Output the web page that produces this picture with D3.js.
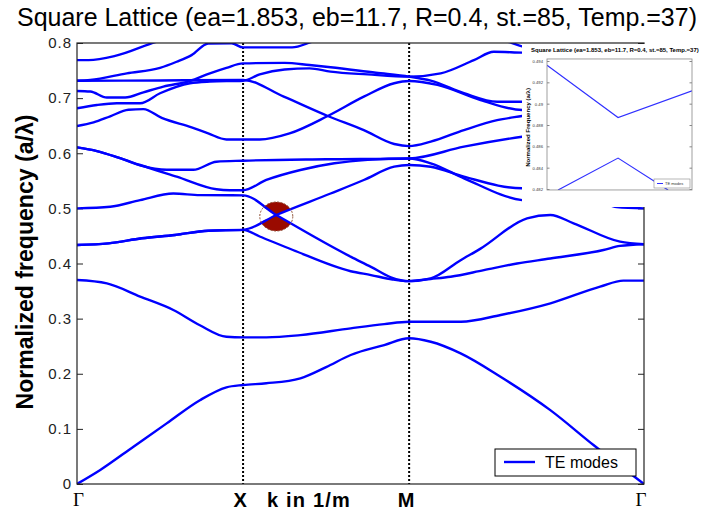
<!DOCTYPE html>
<html><head><meta charset="utf-8">
<script src="https://cdn.jsdelivr.net/npm/d3@7"></script>
<style>body{margin:0;background:#fff}svg{display:block}</style>
</head><body>
<svg id="chart" width="702" height="511"></svg>
<script>
// ---------- data ----------
const titleText = "Square Lattice (ea=1.853, eb=11.7, R=0.4, st.=85, Temp.=37)";
const yLabelText = "Normalized frequency (a/λ)";
const xLabelText = "k in 1/m";
const legendLabel = "TE modes";
const kPoints = [0, 1, 2, 2 + Math.SQRT2];
const kLabels = ["Γ", "X", "M", "Γ"];
const yTicks = [0, 0.1, 0.2, 0.3, 0.4, 0.5, 0.6, 0.7, 0.8];
const yTickLabels = ["0", "0.1", "0.2", "0.3", "0.4", "0.5", "0.6", "0.7", "0.8"];

// bands: [k along Γ-X-M-Γ path, normalized frequency]
const bandK = [[0,0],[0.14,0.0254],[0.34,0.0677],[0.54,0.110],[0.74,0.152],[0.9,0.1754],[1,0.1796],[1.14,0.1827],[1.345,0.1917],[1.5,0.212],[1.648,0.234],[1.85,0.252],[2,0.2643],[2.13,0.258],[2.31,0.237],[2.55,0.1946],[2.85,0.134],[3.11,0.0707],[3.414,0]];
const bandJ = [[0,0.370],[0.18,0.364],[0.38,0.34],[0.58,0.3157],[0.74,0.288],[0.9,0.267],[1,0.266],[1.14,0.266],[1.345,0.270],[1.648,0.2824],[1.85,0.290],[2,0.2944],[2.312,0.2944],[2.551,0.3066],[2.851,0.3278],[3.15,0.358],[3.29,0.369],[3.414,0.369]];
const bandIdown = [[0,0.4336],[0.19,0.4366],[0.39,0.4457],[0.59,0.4517],[0.79,0.4595],[1,0.461],[1.1,0.449],[1.3,0.4245],[1.648,0.386],[1.77,0.379],[1.9,0.371],[2,0.368],[2.13,0.372],[2.25,0.376],[2.45,0.388],[2.65,0.400],[2.85,0.409],[3.17,0.4245],[3.27,0.432],[3.414,0.435]];
const bandIup = [[0,0.4336],[0.19,0.4366],[0.39,0.4457],[0.59,0.4517],[0.79,0.4595],[1,0.461],[1.2,0.488],[1.527,0.527],[1.727,0.5515],[1.91,0.5756],[2,0.5787],[2.13,0.5756],[2.33,0.5575],[2.68,0.5364],[3.0,0.56],[3.414,0.6107]];
const bandH = [[0,0.5],[0.2,0.503],[0.38,0.515],[0.58,0.527],[0.74,0.524],[1,0.5235],[1.2,0.488],[1.65,0.412],[1.77,0.394],[1.89,0.375],[2,0.368],[2.13,0.373],[2.31,0.406],[2.43,0.427],[2.71,0.482],[2.85,0.488],[2.99,0.473],[3.27,0.4396],[3.414,0.435]];
const bandG2 = [[0,0.6107],[0.12,0.604],[0.25,0.592],[0.38,0.5787],[0.6,0.5575],[0.84,0.5346],[0.92,0.533],[1,0.533],[1.14,0.5515],[1.345,0.5696],[1.55,0.5818],[1.75,0.588],[2,0.5905],[2.13,0.5818],[2.33,0.5546],[2.68,0.515],[2.9,0.511],[3.1,0.508],[3.2,0.506],[3.25,0.5025],[3.414,0.5]];
const bandG1 = [[0,0.6107],[0.12,0.604],[0.25,0.592],[0.38,0.578],[0.54,0.570],[0.70,0.570],[0.84,0.5847],[1,0.5865],[1.5,0.589],[2,0.5905],[2.33,0.612],[2.68,0.630],[3.414,0.65]];
const bandE = [[0,0.6494],[0.1,0.656],[0.2,0.667],[0.31,0.679],[0.4,0.68],[0.51,0.664],[0.69,0.647],[0.79,0.636],[0.9,0.625],[1,0.625],[1.1,0.625],[1.28,0.636],[1.51,0.6676],[1.727,0.7026],[1.91,0.727],[2,0.731],[2.17,0.724],[2.43,0.6966],[2.68,0.6785],[3.414,0.68]];
const bandF = [[0,0.7316],[0.5,0.732],[1,0.733],[1.245,0.7026],[1.51,0.6676],[1.727,0.642],[1.91,0.6168],[2,0.613],[2.13,0.621],[2.33,0.642],[2.53,0.660],[2.68,0.6676],[3.414,0.70]];
const bandD = [[0,0.6815],[0.12,0.6875],[0.24,0.6906],[0.38,0.6906],[0.50,0.7088],[0.68,0.727],[0.80,0.730],[1,0.7316],[1.1,0.743],[1.25,0.752],[1.4,0.754],[1.527,0.748],[1.75,0.743],[2,0.739],[2.19,0.745],[2.39,0.769],[2.51,0.784],[2.68,0.7825],[3.414,0.78]];
const bandC = [[0,0.713],[0.08,0.712],[0.18,0.701],[0.29,0.701],[0.40,0.7105],[0.52,0.721],[0.68,0.731],[0.80,0.745],[0.90,0.755],[1,0.763],[1.25,0.764],[1.4,0.760],[1.527,0.756],[1.8,0.746],[2,0.739],[2.13,0.7316],[2.33,0.709],[2.53,0.6935],[2.68,0.6935],[3.414,0.71]];
const bandB = [[0,0.7316],[0.08,0.733],[0.3,0.745],[0.5,0.755],[0.6,0.766],[0.69,0.778],[0.79,0.799],[0.93,0.7995],[1,0.792],[1.295,0.792],[1.416,0.8024],[1.7,0.83],[2,0.84],[2.3,0.83],[2.5,0.81],[2.62,0.80],[2.68,0.794],[3.414,0.77]];
const bandA = [[0,0.769],[0.07,0.769],[0.23,0.7765],[0.48,0.8025],[0.7,0.82],[1,0.83]];
const bands = [bandK, bandJ, bandIdown, bandIup, bandH, bandG2, bandG1, bandE, bandF, bandD, bandC, bandB, bandA];
const crossingPoint = [1.2, 0.488];

// inset (zoom on the crossing)
const insetYTicks = [0.482, 0.484, 0.486, 0.488, 0.49, 0.492, 0.494];
const insetYTickLabels = ["0.482", "0.484", "0.486", "0.488", "0.49", "0.492", "0.494"];
const insetYLabel = "Normalized Frequency (a/λ)";
const insetUpper = [[0,0.4936],[0.49,0.4887],[1,0.4912]];
const insetLower = [[0.076,0.4819],[0.49,0.4849],[0.835,0.4819]];

// ---------- layout ----------
const svg = d3.select("#chart");
const W = 702, H = 511;
const pL = 77, pR = 644, pT = 43, pB = 484;
const x = d3.scaleLinear().domain([0, 2 + Math.SQRT2]).range([pL, pR]);
const y = d3.scaleLinear().domain([0, 0.8]).range([pB, pT]);
const FONT = "'Liberation Sans', Arial, sans-serif";

svg.append("rect").attr("width", W).attr("height", H).attr("fill", "#fff");

function fit(sel, target) {
  const s = +sel.attr("font-size");
  const w = sel.node().getComputedTextLength();
  if (w > 0) sel.attr("font-size", s * target / w);
}

// title
const title = svg.append("text").attr("x", 17).attr("y", 26)
  .attr("font-family", FONT).attr("font-size", 21).attr("fill", "#000").text(titleText);
fit(title, 680);

// clip
svg.append("clipPath").attr("id", "plotclip").append("rect")
  .attr("x", pL).attr("y", pT).attr("width", pR - pL).attr("height", pB - pT);

// y ticks (left & right, inward)
const yAxisL = d3.axisLeft(y).tickValues(yTicks).tickSizeInner(-6).tickSizeOuter(0).tickPadding(6)
  .tickFormat((d, i) => yTickLabels[i]);
const gL = svg.append("g").attr("transform", `translate(${pL},0)`).call(yAxisL);
gL.select(".domain").remove();
gL.selectAll("line").attr("stroke", "#222");
gL.selectAll("text").attr("font-family", FONT).attr("font-size", 15).attr("letter-spacing", 1)
  .attr("fill", "#222").attr("dx", 1);
const yAxisR = d3.axisRight(y).tickValues(yTicks).tickSizeInner(-6).tickSizeOuter(0).tickFormat("");
const gR = svg.append("g").attr("transform", `translate(${pR},0)`).call(yAxisR);
gR.select(".domain").remove();
gR.selectAll("line").attr("stroke", "#222");

// marker fill (crossing highlight)
const c = [x(crossingPoint[0]), y(crossingPoint[1])];
function ext(p, L) {
  const dx = p[0] - c[0], dy = p[1] - c[1], n = Math.hypot(dx, dy);
  return [c[0] + dx / n * L, c[1] + dy / n * L];
}
const pUL = ext([x(bandH[5][0]), y(bandH[5][1])], 60);
const pUR = ext([x(bandIup[7][0]), y(bandIup[7][1])], 60);
const pLL = ext([x(bandIup[5][0]), y(bandIup[5][1])], 60);
const pLR = ext([x(bandH[7][0]), y(bandH[7][1])], 60);
const mclip = svg.append("clipPath").attr("id", "mclip");
mclip.append("polygon").attr("points", [c, pUL, pUR].map(p => p.join(",")).join(" "));
mclip.append("polygon").attr("points", [c, pLL, pLR].map(p => p.join(",")).join(" "));
svg.append("ellipse").attr("cx", c[0]).attr("cy", c[1] + 1.5).attr("rx", 16.5).attr("ry", 14.5)
  .attr("fill", "#9a0a00").attr("clip-path", "url(#mclip)");

// dotted symmetry lines
svg.append("g").selectAll("line").data(kPoints.slice(1, 3)).join("line")
  .attr("x1", d => x(d)).attr("x2", d => x(d)).attr("y1", pT).attr("y2", pB)
  .attr("stroke", "#000").attr("stroke-width", 2).attr("stroke-dasharray", "2,2");

// bands
const line = d3.line().x(d => x(d[0])).y(d => y(d[1])).curve(d3.curveMonotoneX);
svg.append("g").attr("clip-path", "url(#plotclip)").selectAll("path").data(bands).join("path")
  .attr("d", line).attr("fill", "none").attr("stroke", "#0000ff")
  .attr("stroke-width", 2.4).attr("stroke-linejoin", "round");

// marker outline
svg.append("ellipse").attr("cx", c[0]).attr("cy", c[1] + 1.5).attr("rx", 16.5).attr("ry", 14.5)
  .attr("fill", "none").attr("stroke", "#8a4a30").attr("stroke-width", 1).attr("stroke-dasharray", "2,1.5");

// frame
svg.append("rect").attr("x", pL).attr("y", pT).attr("width", pR - pL).attr("height", pB - pT)
  .attr("fill", "none").attr("stroke", "#222").attr("stroke-width", 1.2);

// x labels
svg.append("g").selectAll("text").data(kPoints).join("text")
  .attr("x", (d, i) => x(d) + (i === 0 ? 1.5 : -3)).attr("y", (d, i) => kLabels[i] === "Γ" ? 506 : 507).attr("text-anchor", "middle")
  .attr("font-family", (d, i) => kLabels[i] === "Γ" ? "'Liberation Serif', 'Times New Roman', serif" : FONT)
  .attr("font-weight", (d, i) => kLabels[i] === "Γ" ? "normal" : "bold")
  .attr("font-size", (d, i) => kLabels[i] === "Γ" ? 19 : 20)
  .attr("fill", "#000").text((d, i) => kLabels[i]);
svg.append("text").attr("x", 267).attr("y", 507).attr("font-family", FONT).attr("font-weight", "bold")
  .attr("font-size", 20).attr("letter-spacing", 1.2).attr("fill", "#000").text(xLabelText);

// y label
const yl = svg.append("text").attr("transform", `translate(33,262) rotate(-90)`).attr("text-anchor", "middle")
  .attr("font-family", FONT).attr("font-weight", "bold").attr("font-size", 22).attr("fill", "#000").text(yLabelText);
fit(yl, 295);

// legend
const lg = svg.append("g").attr("transform", `translate(${pR - 149},${pB - 35})`);
lg.append("rect").attr("width", 141).attr("height", 27).attr("fill", "#fff").attr("stroke", "#000").attr("stroke-width", 1);
lg.append("line").attr("x1", 9).attr("x2", 40).attr("y1", 13).attr("y2", 13).attr("stroke", "#0000ff").attr("stroke-width", 2.4);
lg.append("text").attr("x", 50).attr("y", 19).attr("font-family", FONT).attr("font-size", 16).attr("fill", "#000").text(legendLabel);

// ---------- inset ----------
const ins = svg.append("g");
ins.append("rect").attr("x", 522).attr("y", 44).attr("width", W - 522).attr("height", 163).attr("fill", "#fff");
const ix = d3.scaleLinear().domain([0, 1]).range([547, 692]);
const iy = d3.scaleLinear().domain([0.482, 0.494]).range([189, 61]);
const iBox = {x0: 547, x1: 692, y0: iy(0.49419), y1: iy(0.48191)};
const it = ins.append("text").attr("x", 531).attr("y", 52)
  .attr("font-family", FONT).attr("font-weight", "bold").attr("font-size", 6).attr("fill", "#000").text(titleText);
fit(it, 168);
svg.append("clipPath").attr("id", "iclip").append("rect")
  .attr("x", iBox.x0).attr("y", iBox.y0).attr("width", iBox.x1 - iBox.x0).attr("height", iBox.y1 - iBox.y0);
const iAxL = d3.axisLeft(iy).tickValues(insetYTicks).tickSizeInner(-2.5).tickSizeOuter(0).tickPadding(4)
  .tickFormat((d, i) => insetYTickLabels[i]);
const giL = ins.append("g").attr("transform", `translate(${iBox.x0},0)`).call(iAxL);
giL.select(".domain").remove();
giL.selectAll("line").attr("stroke", "#888");
giL.selectAll("text").attr("font-family", FONT).attr("font-size", 4.2).attr("fill", "#333");
const iAxR = d3.axisRight(iy).tickValues(insetYTicks).tickSizeInner(-2.5).tickSizeOuter(0).tickFormat("");
const giR = ins.append("g").attr("transform", `translate(${iBox.x1},0)`).call(iAxR);
giR.select(".domain").remove();
giR.selectAll("line").attr("stroke", "#888");
const iline = d3.line().x(d => ix(d[0])).y(d => iy(d[1]));
ins.append("g").attr("clip-path", "url(#iclip)").selectAll("path").data([insetUpper, insetLower]).join("path")
  .attr("d", iline).attr("fill", "none").attr("stroke", "#3030ff").attr("stroke-width", 1.1);
ins.append("rect").attr("x", iBox.x0).attr("y", iBox.y0).attr("width", iBox.x1 - iBox.x0).attr("height", iBox.y1 - iBox.y0)
  .attr("fill", "none").attr("stroke", "#888").attr("stroke-width", 0.8);
const iyl = ins.append("text").attr("transform", `translate(530,${(iBox.y0 + iBox.y1) / 2 + 3}) rotate(-90)`)
  .attr("text-anchor", "middle").attr("font-family", FONT).attr("font-weight", "bold")
  .attr("font-size", 5).attr("fill", "#000").text(insetYLabel);
fit(iyl, 79);
const ilg = ins.append("g").attr("transform", `translate(654,179)`);
ilg.append("rect").attr("width", 36).attr("height", 9).attr("fill", "#fff").attr("stroke", "#888").attr("stroke-width", 0.6);
ilg.append("line").attr("x1", 3).attr("x2", 9).attr("y1", 4.5).attr("y2", 4.5).attr("stroke", "#3030ff").attr("stroke-width", 1);
ilg.append("text").attr("x", 11).attr("y", 6).attr("font-family", FONT).attr("font-size", 4).attr("fill", "#333").text(legendLabel);
</script>
</body></html>
